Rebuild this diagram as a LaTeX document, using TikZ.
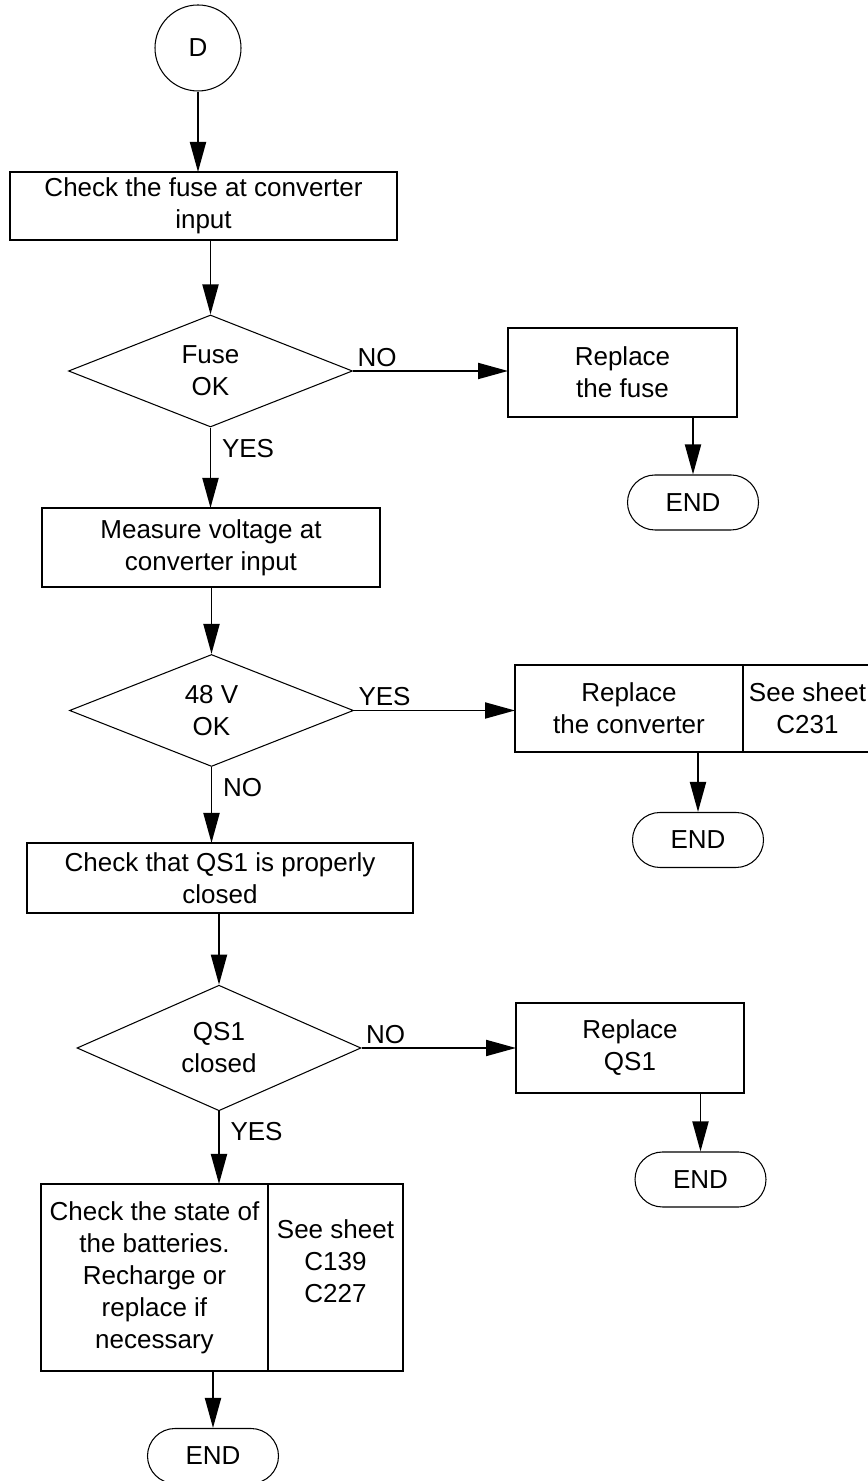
\documentclass[tikz,border=0pt]{standalone}
\usepackage{fontspec}
\setmainfont{Liberation Sans}
\usetikzlibrary{shapes.geometric,arrows.meta,positioning}
\begin{document}
\begin{tikzpicture}[
        font=\fontsize{14.8pt}{18.2pt}\selectfont,
        >={Triangle[length=0.6cm,width=0.32cm]},
        box/.style={draw, line width=1.1pt, align=center, inner sep=0pt, outer sep=0pt},
        cond/.style={draw, diamond, line width=0.6pt, align=center, inner sep=0pt, minimum width=5.68cm, minimum height=2.24cm},
        stop/.style={draw, rounded corners=0.55cm, line width=0.6pt, minimum width=2.62cm, minimum height=1.1cm, inner sep=0pt},
        flow/.style={->, line width=1.1pt},
        sidelabel/.style={pos=0, anchor=south west, inner sep=2pt},
        downlabel/.style={pos=0, anchor=north west, inner sep=6pt}
    ]
        \useasboundingbox (0,0) rectangle (17.34,29.62);
        \node[draw, circle, line width=0.6pt, minimum size=1.72cm, inner sep=0pt] (start) at (3.96,28.66) {D};
        \node[box, minimum width=7.74cm, minimum height=1.36cm] (fuse) at (4.07,25.5) {Check the fuse at converter\\input};
        \node[cond] (fuseok) at (4.21,22.2) {Fuse\\OK};
        \node[box, minimum width=4.58cm, minimum height=1.78cm] (newfuse) at (12.45,22.17) {Replace\\the fuse};
        \node[stop] (end1) at (13.86,19.57) {END};
        \node[box, minimum width=6.76cm, minimum height=1.58cm] (volt) at (4.22,18.67) {Measure voltage at\\converter input};
        \node[cond] (voltok) at (4.23,15.41) {48 V\\OK};
        \node[box, minimum width=4.56cm, minimum height=1.74cm] (newconv) at (12.58,15.45) {Replace\\the converter};
        \node[box, minimum width=2.58cm, minimum height=1.74cm, right=0pt of newconv] (sheet1) {See sheet\\C231};
        \node[stop] (end2) at (13.96,12.82) {END};
        \node[box, minimum width=7.72cm, minimum height=1.4cm] (qs) at (4.4,12.06) {Check that QS1 is properly\\closed};
        \node[cond] (qsok) at (4.38,8.66) {QS1\\closed};
        \node[box, minimum width=4.56cm, minimum height=1.8cm] (newqs) at (12.6,8.66) {Replace\\QS1};
        \node[stop] (end3) at (14.01,6.03) {END};
        \node[box, minimum width=4.54cm, minimum height=3.74cm] (batt) at (3.09,4.07) {Check the state of\\the batteries.\\Recharge or\\replace if\\necessary};
        \node[box, minimum width=2.7cm, minimum height=3.74cm, right=0pt of batt] (sheet2) {See sheet\\C139\\C227\\~};
        \node[stop] (end4) at (4.26,0.5) {END};
        % fuse
        \draw[flow] (start.south) -- (start.south |- fuse.north);
        \draw[flow] (fuse.south -| fuseok.north) -- (fuseok.north);
        \draw[flow] (fuseok.east) -- node[sidelabel] {NO} (fuseok.east -| newfuse.west);
        \draw[flow] (newfuse.south -| end1.north) -- (end1.north);
        \draw[flow] (fuseok.south) -- node[downlabel] {YES} (fuseok.south |- volt.north);
        % 48 V
        \draw[flow] (volt.south -| voltok.north) -- (voltok.north);
        \draw[flow] (voltok.east) -- node[sidelabel] {YES} (voltok.east -| newconv.west);
        \draw[flow] (newconv.south -| end2.north) -- (end2.north);
        \draw[flow] (voltok.south) -- node[downlabel] {NO} (voltok.south |- qs.north);
        % QS1
        \draw[flow] (qs.south -| qsok.north) -- (qsok.north);
        \draw[flow] (qsok.east) -- node[sidelabel] {NO} (qsok.east -| newqs.west);
        \draw[flow] (newqs.south -| end3.north) -- (end3.north);
        \draw[flow] (qsok.south) -- node[downlabel] {YES} (qsok.south |- batt.north);
        \draw[flow] (batt.south -| end4.north) -- (end4.north);
    \end{tikzpicture}
\end{document}
